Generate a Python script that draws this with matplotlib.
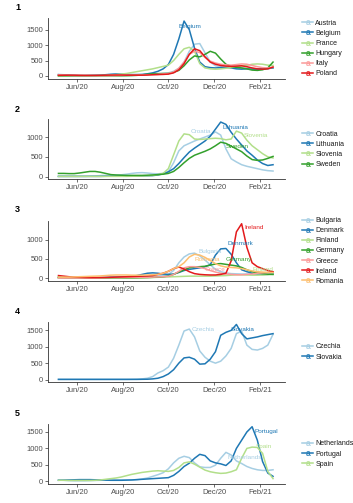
import matplotlib
matplotlib.use("Agg")
import matplotlib.pyplot as plt
import matplotlib.dates as mdates
from matplotlib.lines import Line2D
import pandas as pd
import numpy as np

plt.rcParams['font.family'] = ['Liberation Sans', 'DejaVu Sans']

dates = pd.date_range('2020-05-07', periods=42, freq='7D')

# ---- Panel 1 ----
austria = [50,40,25,15,10,10,12,15,20,20,25,30,30,30,30,35,40,50,60,70,85,
           100,150,250,450,800,1030,1050,750,450,330,300,280,270,260,260,250,240,230,230,240,260]
belgium = [40,30,20,15,12,12,15,20,25,40,55,65,60,50,45,45,50,70,100,150,230,
           370,700,1200,1780,1500,900,450,300,270,260,270,280,260,230,220,230,220,220,230,240,260]
france = [10,10,10,10,10,10,10,12,15,20,30,45,60,80,110,140,170,200,230,270,310,
          350,500,700,880,930,800,400,260,230,220,230,250,270,300,320,340,380,390,380,350,340]
hungary = [5,5,5,5,5,5,5,5,5,5,5,5,5,8,12,20,35,55,70,75,78,
           80,120,180,330,520,650,620,700,800,740,550,380,310,280,260,230,190,180,200,260,450]
italy = [40,30,20,12,10,8,8,8,8,10,12,15,20,25,28,28,30,35,40,50,65,
         80,130,250,450,700,800,760,600,480,420,380,360,350,370,390,380,340,300,270,260,280]
poland = [20,22,25,25,22,20,20,20,22,25,28,30,30,25,25,25,25,30,40,45,50,
          60,100,200,400,700,880,820,620,450,380,340,320,310,320,330,300,260,230,220,230,290]

# ---- Panel 2 ----
croatia = [5,5,5,5,5,5,10,15,25,30,35,40,45,60,80,95,100,90,75,70,80,
           120,350,650,780,840,900,950,1000,1050,1130,1050,700,450,370,300,260,230,200,170,150,140]
lithuania = [5,5,5,5,5,5,5,5,5,8,10,12,15,15,15,15,18,20,25,40,70,
             120,200,330,480,620,720,810,900,1020,1200,1380,1320,1120,950,800,650,540,420,330,280,300]
slovenia = [5,5,5,5,5,5,5,5,5,5,5,5,5,5,8,10,15,20,30,50,80,
            200,550,900,1080,1060,950,940,950,960,970,960,930,950,1150,1100,920,780,680,580,500,470]
sweden = [80,80,75,75,90,110,130,130,110,80,50,40,35,30,30,30,30,35,40,50,60,
          80,130,230,350,460,540,590,640,700,780,870,840,770,700,630,520,430,410,420,460,510]

# ---- Panel 3 ----
bulgaria = [10,10,10,10,10,10,10,12,15,20,25,30,30,30,30,30,35,40,50,60,80,
            100,200,400,550,630,650,580,470,350,230,170,140,120,115,110,110,110,120,130,140,150]
denmark = [20,15,10,8,8,8,8,10,15,20,25,30,35,40,50,70,100,130,140,130,110,
           100,110,150,200,230,250,270,300,350,600,760,770,620,400,220,170,130,110,100,100,110]
finland = [10,8,5,5,5,5,5,5,5,5,5,5,5,5,5,8,10,15,20,25,30,
           35,40,45,50,55,55,55,55,55,60,65,70,80,90,90,85,80,80,85,95,100]
germany = [25,15,10,8,8,8,8,8,10,12,15,15,15,15,15,15,18,20,25,30,40,
           60,100,160,220,270,290,300,310,340,370,380,360,340,320,280,220,170,140,120,105,100]
greece = [5,5,5,5,5,5,5,5,10,15,20,20,20,25,25,25,25,25,30,35,40,
          50,100,180,270,300,300,280,250,200,160,130,110,100,90,90,100,110,130,140,150,160]
ireland = [70,55,40,30,25,20,18,18,20,22,25,30,35,40,45,50,55,60,70,100,130,
           180,250,290,240,170,120,100,90,85,85,100,130,450,1200,1410,800,400,300,250,200,170]
romania = [30,30,30,35,40,45,50,55,60,70,80,85,85,85,80,80,80,85,90,100,130,
           180,250,300,400,550,620,600,540,460,380,320,290,280,270,250,220,190,170,160,150,150]

# ---- Panel 4 ----
czechia = [5,5,5,5,5,5,5,5,5,5,5,5,5,5,8,12,20,40,90,200,270,
           380,650,1050,1480,1540,1300,870,680,560,500,560,720,950,1400,1480,1050,920,900,950,1050,1380]
slovakia = [5,5,5,5,5,5,5,5,5,5,5,5,5,5,5,5,8,10,20,40,90,
            170,300,500,660,680,620,470,480,620,850,1350,1440,1500,1680,1400,1240,1270,1300,1340,1370,1400]

# ---- Panel 5 ----
netherlands = [40,30,20,15,15,15,20,25,30,35,40,40,40,40,40,50,70,100,150,200,260,
               380,560,700,760,720,560,440,420,420,490,700,880,800,620,540,450,390,350,330,330,350]
portugal = [30,35,40,45,50,50,50,45,40,35,30,30,30,35,40,50,60,70,80,90,100,
            110,180,300,450,550,700,820,780,620,560,530,480,620,1000,1250,1500,1660,1250,600,250,150]
spain = [30,30,25,25,25,25,25,30,40,60,80,100,130,170,210,240,270,290,310,320,310,
         300,330,420,560,590,520,430,340,290,260,240,250,290,350,700,1000,1040,1030,850,300,80]

panels = [
    ("1", ["Austria", "Belgium", "France", "Hungary", "Italy", "Poland"],
     [austria, belgium, france, hungary, italy, poland], ["Belgium"], [0, 500, 1000, 1500]),
    ("2", ["Croatia", "Lithuania", "Slovenia", "Sweden"],
     [croatia, lithuania, slovenia, sweden], ["Croatia", "Lithuania", "Slovenia", "Sweden"], [0, 500, 1000]),
    ("3", ["Bulgaria", "Denmark", "Finland", "Germany", "Greece", "Ireland", "Romania"],
     [bulgaria, denmark, finland, germany, greece, ireland, romania],
     ["Bulgaria", "Denmark", "Finland", "Germany", "Greece", "Ireland", "Romania"], [0, 500, 1000]),
    ("4", ["Czechia", "Slovakia"], [czechia, slovakia], ["Czechia", "Slovakia"], [0, 500, 1000, 1500]),
    ("5", ["Netherlands", "Portugal", "Spain"], [netherlands, portugal, spain],
     ["Netherlands", "Portugal", "Spain"], [0, 500, 1000, 1500]),
]

palette = ['#A6CEE3', '#1F78B4', '#B2DF8A', '#33A02C', '#FB9A99', '#E31A1C', '#FDBF6F']

# label offsets in pixels (dx, dy) and alignment
label_style = {
    "Belgium": (-6, -5, 'left'), "Croatia": (-4, 0, 'right'), "Lithuania": (2, -5, 'left'),
    "Slovenia": (7, -4, 'left'), "Sweden": (5, -4, 'left'), "Bulgaria": (4, 2, 'left'),
    "Denmark": (2, 5, 'left'), "Finland": (0, 5, 'right'), "Germany": (5, 4, 'left'),
    "Greece": (15, -3, 'left'), "Ireland": (3, -4, 'left'), "Romania": (0, -5, 'left'),
    "Czechia": (2, 0, 'left'), "Slovakia": (-6, -5, 'left'), "Netherlands": (2, -5, 'left'),
    "Portugal": (2, -5, 'left'), "Spain": (4, 1, 'left'),
}

W, H = 353, 503
fig = plt.figure(figsize=(W / 100, H / 100), dpi=100)

# axes (top px, bottom px)
boxes = [(18.3, 78.7), (119.3, 179.3), (221, 281), (321.7, 382.3), (424, 484)]
label_y = [7, 110, 210, 311, 414]
left_px, right_px = 48, 285

xmin = pd.Timestamp('2020-04-23')
xmax = pd.Timestamp('2021-03-06')
ticks = [pd.Timestamp(t) for t in ['2020-06-01', '2020-08-01', '2020-10-01', '2020-12-01', '2021-02-01']]

for (num, names, series, labelled, yticks), (top, bot), ly in zip(panels, boxes, label_y):
    ax = fig.add_axes([left_px / W, 1 - bot / H, (right_px - left_px) / W, (bot - top) / H])
    handles = []
    allv = []
    for k, (nm, vals) in enumerate(zip(names, series)):
        c = palette[k]
        ax.plot(dates, vals, color=c, lw=1.1, solid_joinstyle='round')
        allv.extend(vals)
        handles.append(Line2D([0], [0], color=c, lw=1.1, marker=r'$\mathregular{a}$',
                              markersize=3.2, markeredgewidth=0.2))
        if nm in labelled:
            j = int(np.argmax(vals))
            dx, dy, ha = label_style.get(nm, (3, -4, 'left'))
            ax.annotate(nm, (dates[j], vals[j]), xytext=(dx, dy), textcoords='offset pixels',
                        ha=ha, va='center', fontsize=4.6, color=c)
    vmin, vmax = min(0, min(allv)), max(allv)
    r = vmax - vmin
    ax.set_ylim(vmin - 0.05 * r, vmax + 0.05 * r)
    ax.set_xlim(xmin, xmax)
    ax.set_xticks(ticks)
    ax.xaxis.set_major_formatter(mdates.DateFormatter('%b/%y'))
    ax.set_yticks(yticks)
    ax.tick_params(labelsize=5.5, colors='#4D4D4D', length=2, width=0.5, pad=1.5)
    ax.tick_params(axis='both', color='#333333')
    for s in ['top', 'right']:
        ax.spines[s].set_visible(False)
    for s in ['left', 'bottom']:
        ax.spines[s].set_color('#333333')
        ax.spines[s].set_linewidth(0.6)
    ax.patch.set_alpha(0)
    fig.text(15 / W, 1 - ly / H, num, fontsize=6.5, fontweight='bold', va='center', ha='left')
    leg = ax.legend(handles, names, loc='center left',
                    bbox_to_anchor=((302 - left_px) / (right_px - left_px), 0.5),
                    frameon=False, fontsize=5, handlelength=1.6, handletextpad=0.3,
                    labelspacing=0.45, borderpad=0, borderaxespad=0)
    for t in leg.get_texts():
        t.set_color('#1a1a1a')

fig.savefig('out.png', dpi=100)
